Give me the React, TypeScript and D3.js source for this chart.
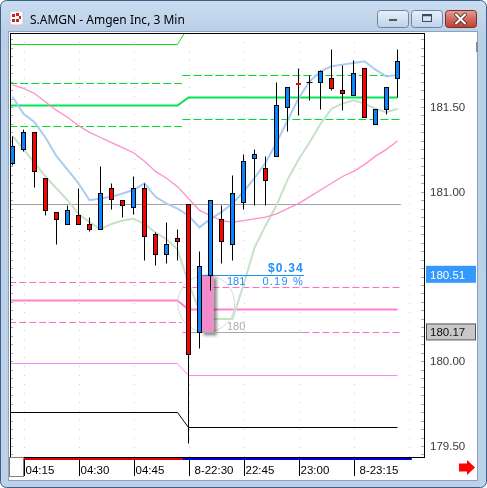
import React from 'react';
import * as d3 from 'd3';

// 3-minute bars, AMGN
const opens = [181.17, 181.25, 181.35, 181.08, 180.88, 180.81, 180.86, 180.81, 180.78, 181.02, 180.95, 180.91, 181.02, 180.75, 180.63, 180.73, 180.93, 180.17, 180.51, 180.84, 180.69, 180.94, 181.20, 181.14, 181.21, 181.50, 181.64, 181.65, 181.65, 181.67, 181.60, 181.57, 181.73, 181.40, 181.49, 181.67];
const highs = [181.33, 181.37, 181.35, 181.08, 180.88, 180.92, 181.02, 180.85, 181.15, 181.05, 180.95, 181.09, 181.05, 180.76, 180.82, 180.78, 180.93, 180.65, 180.95, 180.92, 181.10, 181.22, 181.25, 181.21, 181.65, 181.62, 181.73, 181.69, 181.72, 181.84, 181.75, 181.78, 181.73, 181.49, 181.62, 181.84];
const lows = [181.16, 181.24, 181.03, 180.86, 180.69, 180.81, 180.81, 180.77, 180.78, 180.90, 180.85, 180.87, 180.60, 180.57, 180.58, 180.60, 179.52, 180.08, 180.42, 180.58, 180.60, 180.90, 180.92, 180.92, 181.21, 181.36, 181.45, 181.54, 181.49, 181.60, 181.48, 181.57, 181.44, 181.40, 181.46, 181.56];
const closes = [181.27, 181.35, 181.12, 180.89, 180.84, 180.89, 180.81, 180.78, 180.99, 180.96, 180.92, 181.02, 180.74, 180.63, 180.69, 180.71, 180.04, 180.56, 180.95, 180.71, 180.99, 181.18, 181.22, 181.07, 181.51, 181.62, 181.63, 181.65, 181.71, 181.61, 181.58, 181.70, 181.44, 181.49, 181.62, 181.77];

// moving averages
const maBlue = [181.56, 181.46, 181.41, 181.32, 181.21, 181.13, 181.05, 180.95, 180.96, 180.97, 180.99, 181.01, 181.05, 180.97, 180.93, 180.90, 180.86, 180.79, 180.84, 180.88, 180.93, 181.00, 181.08, 181.17, 181.29, 181.42, 181.55, 181.65, 181.71, 181.74, 181.75, 181.76, 181.77, 181.72, 181.68, 181.69];
const maGreen = [181.33, 181.25, 181.17, 181.09, 181.02, 180.95, 180.87, 180.82, 180.78, 180.81, 180.83, 180.84, 180.81, 180.76, 180.72, 180.66, 180.46, 180.30, 180.25, 180.25, 180.25, 180.45, 180.67, 180.80, 180.92, 181.07, 181.19, 181.29, 181.40, 181.49, 181.52, 181.54, 181.52, 181.49, 181.47, 181.49];
const maPink = [181.63, 181.61, 181.58, 181.53, 181.48, 181.44, 181.39, 181.35, 181.32, 181.29, 181.26, 181.23, 181.18, 181.12, 181.08, 181.03, 180.96, 180.89, 180.86, 180.83, 180.82, 180.83, 180.84, 180.85, 180.87, 180.90, 180.93, 180.97, 181.01, 181.05, 181.09, 181.12, 181.16, 181.21, 181.25, 181.30];

// session levels: [previous session, current session]
const greenTopLevel = [181.87, 181.98];
const greenHighBand = [181.64, 181.69];
const greenPivot = [181.51, 181.56];
const greenLowBand = [181.39, 181.43];
const pinkHighBand = [180.47, 180.44];
const pinkPivot = [180.36, 180.31];
const pinkLowBand = [180.23, 180.17];
const violetLevel = [179.99, 179.92];
const blackLevel = [179.70, 179.61];
const prevClose = 180.93;

// price ruler
const rulerLow = 180.17;
const rulerHigh = 180.51;
const rulerLowLabel = '180';
const rulerHighLabel = '181';

const timeLabels = ['04:15', '04:30', '04:45', '8-22:30', '22:45', '23:00', '8-23:15'];
const timeLabelBars = [1, 6, 11, 16, 21, 26, 31];
const priceTicks = [181.5, 181.0, 180.0, 179.5];
const priceTickLabels = ['181.50', '181.00', '180.00', '179.50'];

const SESSION_BREAK = 15; // last bar of previous session

const chartFont = '"Liberation Sans", Arial, sans-serif';

export default function App() {
  const P = { l: 10, t: 33, r: 424, b: 457 };
  const x = d3.scaleLinear().domain([0, 35]).range([12.5, 397.5]);
  const y = d3.scaleLinear().domain([179.5, 181.5]).range([446, 107]);
  const snap = (v: number) => Math.round(v) + 0.5;

  const stepLine = d3
    .line<[number, number]>()
    .x((d) => x(d[0]))
    .y((d) => snap(y(d[1])));

  const solidLevel = (lv: number[]) =>
    stepLine([
      [-0.3, lv[0]],
      [SESSION_BREAK, lv[0]],
      [SESSION_BREAK + 1, lv[1]],
      [35, lv[1]],
    ]) as string;

  const dashedLevel = (lv: number[]) =>
    (stepLine([
      [-0.3, lv[0]],
      [SESSION_BREAK + 0.4, lv[0]],
    ]) as string) +
    (stepLine([
      [SESSION_BREAK + 0.45, lv[1]],
      [35.3, lv[1]],
    ]) as string);

  const maLine = d3
    .line<number>()
    .x((_, i) => x(i))
    .y((d) => y(d));

  const minorTicks = d3.range(179.45, 181.95, 0.05);

  const boxX0 = x(17.1);
  const boxX1 = x(18.3);
  const yHi = y(rulerHigh);
  const yLo = y(rulerLow);
  const pctText = (((rulerHigh - rulerLow) / rulerLow) * 100).toFixed(2) + ' %';
  const diffText = '$' + (rulerHigh - rulerLow).toFixed(2);

  return (
    <svg
      width={487}
      height={488}
      style={{ position: 'fixed', left: 0, top: 0 }}
      fontFamily={chartFont}
    >
      <defs>
        <linearGradient id="frameGrad" x1="0" y1="0" x2="0" y2="1">
          <stop offset="0" stopColor="#cadcf0" />
          <stop offset="0.07" stopColor="#b9cfe8" />
          <stop offset="1" stopColor="#bcd2ea" />
        </linearGradient>
        <linearGradient id="btnGrad" x1="0" y1="0" x2="0" y2="1">
          <stop offset="0" stopColor="#e8f0f9" />
          <stop offset="0.5" stopColor="#d3e1f1" />
          <stop offset="1" stopColor="#bfd2ea" />
        </linearGradient>
        <linearGradient id="closeGrad" x1="0" y1="0" x2="0" y2="1">
          <stop offset="0" stopColor="#e3a096" />
          <stop offset="0.5" stopColor="#cf6a5c" />
          <stop offset="1" stopColor="#bf4030" />
        </linearGradient>
        <filter id="boxShadow" x="-50%" y="-20%" width="200%" height="140%">
          <feDropShadow dx="3" dy="3" stdDeviation="1.6" floodColor="#000" floodOpacity="0.45" />
        </filter>
        <clipPath id="plotClip">
          <rect x={P.l + 1} y={P.t + 1} width={P.r - P.l - 1} height={P.b - P.t - 1} />
        </clipPath>
      </defs>

      {/* window frame */}
      <rect x={0.5} y={0.5} width={486} height={487} rx={6} fill="url(#frameGrad)" stroke="#3f5f86" />
      <rect x={8.5} y={31.5} width={469} height={449} fill="#fff" stroke="#8fa2b8" />

      {/* title bar */}
      <g>
        <rect x={10} y={11} width={13} height={14} rx={2} fill="#fff" stroke="#c9c9c9" />
        <rect x={12} y={14} width={3} height={3} fill="#d0202a" />
        <rect x={16} y={13} width={3} height={3} fill="#d0202a" />
        <rect x={19} y={16} width={2} height={3} fill="#d0202a" />
        <rect x={12} y={19} width={3} height={3} fill="#d0202a" />
        <rect x={16} y={19} width={3} height={3} fill="#d0202a" />
        <text x={30} y={24} fontSize={12} fontFamily='"Noto Sans", "Open Sans", sans-serif' fill="#000">
          S.AMGN - Amgen Inc, 3 Min
        </text>
        <rect x={377.5} y={10.5} width={31} height={17} rx={3} fill="url(#btnGrad)" stroke="#6a85a8" />
        <rect x={388.5} y={18.5} width={9} height={3} fill="#4a5a70" stroke="#fff" strokeWidth={0.6} />
        <rect x={411.5} y={10.5} width={31} height={17} rx={3} fill="url(#btnGrad)" stroke="#6a85a8" />
        <rect x={422.5} y={14.5} width={9} height={7} fill="none" stroke="#3d4b5e" strokeWidth={1} />
        <line x1={422.5} x2={431.5} y1={15.5} y2={15.5} stroke="#3d4b5e" strokeWidth={1.5} />
        <rect x={445.5} y={10.5} width={31} height={17} rx={3} fill="url(#closeGrad)" stroke="#7a2f2a" />
        <path d="M456,14.5 L465,23.5 M465,14.5 L456,23.5" stroke="#3a1a18" strokeWidth={3.6} strokeLinecap="round" />
        <path d="M456,14.5 L465,23.5 M465,14.5 L456,23.5" stroke="#fff" strokeWidth={2.2} strokeLinecap="round" />
      </g>

      {/* plot area */}
      <g clipPath="url(#plotClip)">
        {/* dotted time grid */}
        {timeLabelBars.map((b, i) => (
          <line
            key={'vg' + i}
            x1={snap(x(b))}
            x2={snap(x(b))}
            y1={P.t}
            y2={P.b}
            stroke="#cfcfcf"
            strokeDasharray="1 8"
          />
        ))}
        <line x1={snap(x(36))} x2={snap(x(36))} y1={P.t} y2={P.b} stroke="#cfcfcf" strokeDasharray="1 8" />

        {/* minor price ticks on both edges */}
        {minorTicks.map((v, i) => (
          <g key={'mt' + i}>
            <line x1={P.l} x2={P.l + 3} y1={snap(y(v))} y2={snap(y(v))} stroke="#a8a8a8" />
            <line x1={P.r - 3} x2={P.r} y1={snap(y(v))} y2={snap(y(v))} stroke="#a8a8a8" />
          </g>
        ))}

        {/* session levels */}
        <path d={solidLevel(greenTopLevel)} fill="none" stroke="#18e018" strokeWidth={1} />
        <path d={dashedLevel(greenHighBand)} fill="none" stroke="#00dc28" strokeWidth={1.2} strokeDasharray="8 3" />
        <path d={solidLevel(greenPivot)} fill="none" stroke="#00e65a" strokeWidth={2} />
        <path d={dashedLevel(greenLowBand)} fill="none" stroke="#00dc28" strokeWidth={1.2} strokeDasharray="8 3" />
        <path d={dashedLevel(pinkHighBand)} fill="none" stroke="#ff6ec4" strokeWidth={1} strokeDasharray="7 3" />
        <path d={solidLevel(pinkPivot)} fill="none" stroke="#ff80d4" strokeWidth={2} />
        <path d={dashedLevel(pinkLowBand)} fill="none" stroke="#ff6ec4" strokeWidth={1} strokeDasharray="7 3" />
        <path d={solidLevel(violetLevel)} fill="none" stroke="#ff88ee" strokeWidth={1} />
        <path d={solidLevel(blackLevel)} fill="none" stroke="#000" strokeWidth={1} />

        {/* previous close */}
        <line x1={P.l} x2={x(35.3)} y1={snap(y(prevClose))} y2={snap(y(prevClose))} stroke="#a0a0a0" />

        {/* moving averages */}
        <path d={maLine(maGreen) as string} fill="none" stroke="#c6e2c6" strokeWidth={2} />
        <path d={maLine(maBlue) as string} fill="none" stroke="#abcbef" strokeWidth={2} />
        <path d={maLine(maPink) as string} fill="none" stroke="#ff8fcc" strokeWidth={1.3} />

        {/* ruler */}
        <circle cx={(boxX0 + boxX1) / 2 - 1} cy={(yHi + yLo) / 2} r={28.5} fill="none" stroke="#dadada" />
        <rect
          x={boxX0}
          y={yHi}
          width={boxX1 - boxX0}
          height={yLo - yHi}
          fill="#f08cc8"
          filter="url(#boxShadow)"
        />
        <line x1={x(16.15)} x2={x(26.5)} y1={snap(yLo)} y2={snap(yLo)} stroke="#a8a8a8" />
        <line x1={boxX0} x2={x(26.5)} y1={snap(yHi)} y2={snap(yHi)} stroke="#1e8fff" />

        {/* candles */}
        {opens.map((o, i) => {
          const c = closes[i];
          const xc = x(i);
          const yTop = snap(y(Math.max(o, c)));
          const yBot = snap(y(Math.min(o, c)));
          const color = c > o ? '#0a84ff' : '#ff0000';
          return (
            <g key={'c' + i}>
              <line x1={xc} x2={xc} y1={snap(y(highs[i]))} y2={snap(y(lows[i]))} stroke="#000" />
              {o === c ? (
                <line x1={xc - 3} x2={xc + 3} y1={yTop} y2={yTop} stroke="#000" />
              ) : yBot - yTop <= 2 ? (
                <rect x={xc - 2.5} y={yTop - 0.5} width={5} height={2} fill={color} />
              ) : (
                <rect x={xc - 2} y={yTop} width={4} height={yBot - yTop} fill={color} stroke="#000" />
              )}
            </g>
          );
        })}

        {/* ruler text */}
        <text x={x(26.5)} y={yHi - 3} textAnchor="end" fontSize={12} fontWeight="bold" fill="#1e8fff" letterSpacing={1.2}>
          {diffText}
        </text>
        <text x={x(26.5)} y={yHi + 10} textAnchor="end" fontSize={11} fill="#1e8fff" letterSpacing={1.2}>
          {pctText}
        </text>
        <text x={x(19.5)} y={yHi + 10} fontSize={11} fill="#1e8fff">
          {rulerHighLabel}
        </text>
        <text x={x(19.5)} y={yLo - 2} fontSize={11} fill="#ababab">
          {rulerLowLabel}
        </text>
      </g>

      {/* plot frame */}
      <rect x={P.l + 0.5} y={P.t + 0.5} width={P.r - P.l} height={P.b - P.t} fill="none" stroke="#000" />

      {/* price axis */}
      {priceTicks.map((v, i) => (
        <text key={'pt' + i} x={430} y={y(v) + 4} fontSize={11.5} fill="#3a3a3a">
          {priceTickLabels[i]}
        </text>
      ))}
      <rect x={426} y={y(rulerHigh) - 9} width={50} height={17} fill="#3399ff" />
      <text x={430} y={y(rulerHigh) + 4} fontSize={11.5} fill="#fff">
        {rulerHigh.toFixed(2)}
      </text>
      <rect x={426.5} y={y(rulerLow) - 8.5} width={49} height={16} fill="#c8c8c8" stroke="#555" />
      <text x={430} y={y(rulerLow) + 4} fontSize={11.5} fill="#111">
        {rulerLow.toFixed(2)}
      </text>
      <rect x={476} y={42} width={2} height={10} fill="#8a8a8a" />

      {/* session strips */}
      <line x1={x(1)} x2={x(SESSION_BREAK + 0.5)} y1={459} y2={459} stroke="#e00000" strokeWidth={2} />
      <line x1={x(SESSION_BREAK + 0.5)} x2={x(36.3)} y1={459} y2={459} stroke="#0000d8" strokeWidth={2} />

      {/* time axis */}
      <rect x={9.5} y={457.5} width={14} height={19} fill="#fff" stroke="#808080" />
      {timeLabelBars.map((b, i) => (
        <g key={'tl' + i}>
          <line x1={snap(x(b))} x2={snap(x(b))} y1={460} y2={476} stroke="#000" />
          <text
            x={snap(x(b)) + (timeLabels[i].includes('-') ? 5 : 1)}
            y={474}
            fontSize={11.5}
            fill="#000"
          >
            {timeLabels[i]}
          </text>
        </g>
      ))}

      {/* scroll arrow */}
      <path d="M459,463.5 L467,463.5 L467,460 L475,467.5 L467,475 L467,471.5 L459,471.5 Z" fill="#ff0000" />
    </svg>
  );
}
